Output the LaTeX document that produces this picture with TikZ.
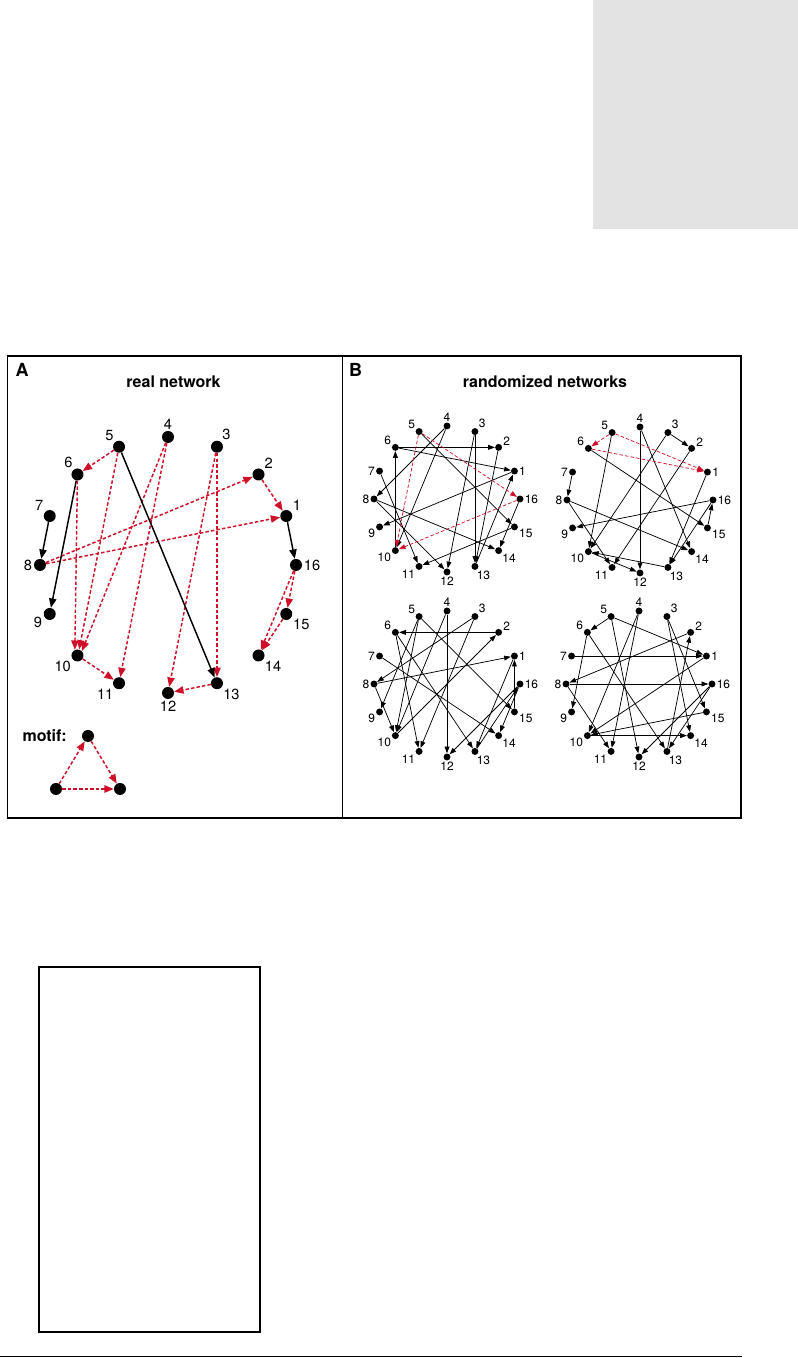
\documentclass[tikz,border=0pt]{standalone}
\usepackage{fontspec}
\setmainfont{TeX Gyre Heros}
\usetikzlibrary{arrows.meta, positioning}
\definecolor{motifred}{RGB}{208,16,40}
\definecolor{pagegray}{RGB}{227,227,227}
\tikzset{
    dot/.style={circle, fill=black, inner sep=0pt, minimum size=9pt},
    smalldot/.style={circle, fill=black, inner sep=0pt, minimum size=5.2pt},
    numlab/.style={font=\fontsize{11}{13}\selectfont, inner sep=1pt},
    smalllab/.style={font=\fontsize{9}{10}\selectfont, inner sep=0.6pt},
    arrow/.style={-{Triangle[length=7pt, width=5.5pt]}, line width=1.1pt},
    motif/.style={arrow, draw=motifred, dash pattern=on 2.6pt off 1.6pt},
    thinarrow/.style={-{Triangle[length=5pt, width=3.6pt]}, line width=0.55pt},
    thinmotif/.style={thinarrow, draw=motifred, dash pattern=on 2.6pt off 1.6pt},
    title/.style={font=\bfseries\fontsize{12}{14}\selectfont, inner sep=0pt},
    panel/.style={font=\bfseries\fontsize{13.5}{16}\selectfont, inner sep=0pt}
}
% 16 small nodes on a ring: prefix, centre x, centre y
\newcommand{\smallring}[3]{%
    \foreach \k/\la in {1/0,2/5,3/40,4/90,5/145,6/153,7/180,8/180,9/201,10/208,11/220,12/270,13/-78,14/-43,15/-8,16/0}
        \node[smalldot, label={[smalllab]\la:\k}] (#1\k) at ([shift={(#2,#3)}]{22.5*\k}:73) {};%
}

\begin{document}
\begin{tikzpicture}[x=0.75pt, y=0.75pt]

    \useasboundingbox (0,0) rectangle (798,1358);
    \fill[pagegray] (593,1129) rectangle (798,1358);

    % figure frame
    \draw[line width=1pt] (7.5,540) rectangle (741,1002);
    \draw[line width=1pt] (342.5,540) -- (342.5,1002);
    \node[panel] (lblA) at (22,988) {A};
    \node[panel] (lblB) at (355.5,988) {B};
    \node[title] (titleA) at (173.5,976.5) {real network};
    \node[title] (titleB) at (545,976.5) {randomized networks};

    % real network
    \foreach \k/\la in {1/37,2/43,3/54,4/90,5/129,6/122,7/142,8/180,9/195,10/217,11/229,12/270,13/-41,14/-39,15/-33,16/0}
        \node[dot, label={[numlab]\la:\k}] (a\k) at ([shift={(168,793)}]{22.5*\k}:128) {};

    \draw[motif] (a5) -- (a6);
    \draw[motif] (a5) -- (a10.75);
    \draw[motif] (a6) -- (a10.115);
    \draw[motif] (a4) -- (a10.45);
    \draw[motif] (a4) -- (a11);
    \draw[motif] (a10) -- (a11);
    \draw[motif] (a3) -- (a12);
    \draw[motif] (a3) -- (a13);
    \draw[motif] (a13) -- (a12);
    \draw[motif] (a8) -- (a2);
    \draw[motif] (a2) -- (a1);
    \draw[motif] (a8) -- (a1);
    \draw[motif] (a16) -- (a15);
    \draw[motif] (a15) -- (a14);
    \draw[motif] (a16) -- (a14);
    \draw[arrow] (a7) -- (a8);
    \draw[arrow] (a1) -- (a16);
    \draw[arrow] (a6) -- (a9);
    \draw[arrow] (a5) -- (a13);

    % motif
    \node[dot] (mtop) at (88,622) {};
    \node[dot] (mleft) at (56,569) {};
    \node[dot] (mright) at (120,569) {};
    \node[title, left=11pt of mtop] (motiflbl) {motif:};
    \draw[motif] (mleft) -- (mtop);
    \draw[motif] (mtop) -- (mright);
    \draw[motif] (mleft) -- (mright);

    % randomized networks
    \smallring{p}{447}{859}
    \smallring{q}{640}{858}
    \smallring{s}{447}{674}
    \smallring{t}{639}{674}

    \foreach \u/\v in {6/2,6/1,10/6,4/8,4/10,5/15,3/13,3/12,2/13,13/1,1/9,7/11,8/12,8/14,15/11,16/14}
        \draw[thinarrow] (p\u) -- (p\v);
    \foreach \u/\v in {5/10,5/16,16/10}
        \draw[thinmotif] (p\u) -- (p\v);

    \foreach \u/\v in {3/2,7/8,4/12,4/14,5/10,3/10,2/11,6/15,1/13,16/13,16/9,15/16,8/11,8/14,10/12,13/10}
        \draw[thinarrow] (q\u) -- (q\v);
    \foreach \u/\v in {5/6,5/1,6/1}
        \draw[thinmotif] (q\u) -- (q\v);

    \foreach \u/\v in {2/6,4/12,4/10,3/8,3/11,10/2,8/1,8/10,6/11,6/13,7/14,5/15,5/9,5/10,15/1,16/12,16/14,1/13,13/16}
        \draw[thinarrow] (s\u) -- (s\v);

    \foreach \u/\v in {5/6,5/1,5/12,7/1,2/8,8/16,8/11,6/9,6/13,4/10,4/11,1/10,13/2,15/10,10/14,16/13,16/12,3/14,3/15}
        \draw[thinarrow] (t\u) -- (t\v);

    % lower frame and rule
    \draw[line width=1.5pt] (39,26) rectangle (260,391);
    \draw[line width=0.75pt] (0,1.3) -- (742,1.3);

\end{tikzpicture}
\end{document}
